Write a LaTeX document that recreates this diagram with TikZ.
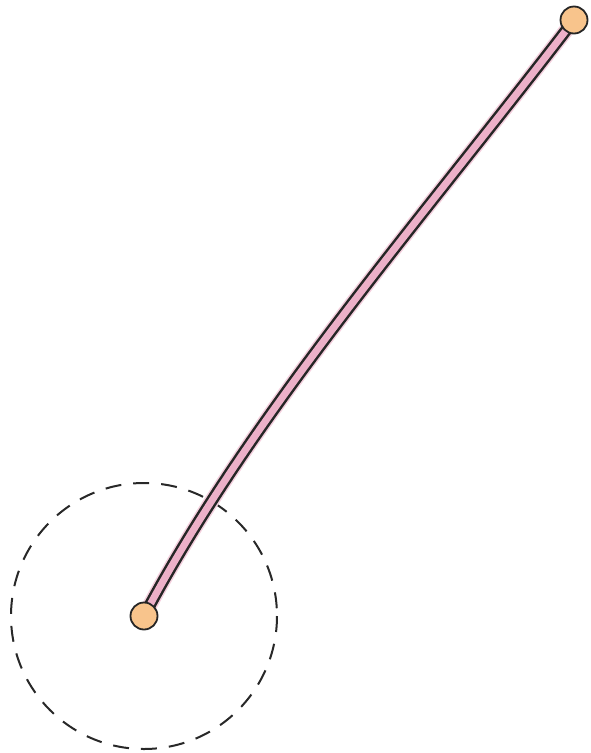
\documentclass[tikz,border=0pt]{standalone}
\usetikzlibrary{calc}
\definecolor{rodpink}{RGB}{236,176,200}
\definecolor{ballorange}{RGB}{248,196,140}
\definecolor{dashgray}{RGB}{40,40,40}
\tikzset{
  ball/.style={circle,draw=black!85,line width=1.8pt,fill=ballorange,minimum size=27pt,inner sep=0pt},
  reach/.style={draw=dashgray,line width=2pt,dash pattern=on 16pt off 12pt},
  halo/.style={draw=rodpink!60,line width=15pt},
  rodedge/.style={draw=black!85,line width=12pt},
  rodcore/.style={draw=rodpink,line width=7pt}
}
\begin{document}
\begin{tikzpicture}[x=1pt,y=-1pt]
\useasboundingbox (0,0) rectangle (590,753);
\coordinate (c) at (144,616);
\coordinate (tip) at (574,20);
\coordinate (h1) at (252,412);
\coordinate (h2) at (425,215);
\draw[reach] (c) circle[radius=133];
\draw[halo] (c) .. controls (h1) and (h2) .. (tip);
\draw[rodedge] (c) .. controls (h1) and (h2) .. (tip);
\draw[rodcore] (c) .. controls (h1) and (h2) .. (tip);
\node[ball] (base) at (c) {};
\node[ball] (end) at (tip) {};
\end{tikzpicture}
\end{document}
